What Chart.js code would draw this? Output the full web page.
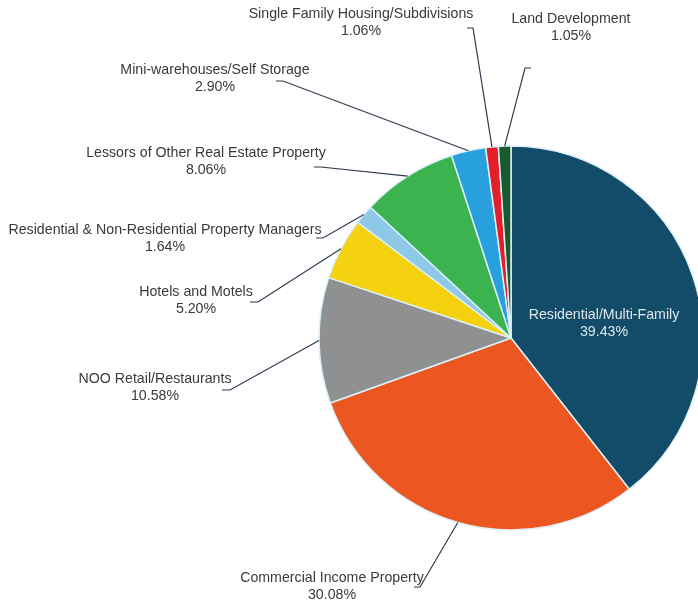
<!DOCTYPE html>
<html>
<head>
<meta charset="utf-8">
<style>
  html, body { margin: 0; padding: 0; background: #ffffff; overflow: hidden; }
  #wrap { width: 698px; height: 603px; }
</style>
<script src="https://cdn.jsdelivr.net/npm/chart.js@4/dist/chart.umd.min.js"></script>
</head>
<body>
<div id="wrap"><canvas id="pie" width="698" height="603"></canvas></div>
<script>
// Loan portfolio by property type, share of total (%)
const categories = [
  'Residential/Multi-Family',
  'Commercial Income Property',
  'NOO Retail/Restaurants',
  'Hotels and Motels',
  'Residential & Non-Residential Property Managers',
  'Lessors of Other Real Estate Property',
  'Mini-warehouses/Self Storage',
  'Single Family Housing/Subdivisions',
  'Land Development'
];
const shares = [39.43, 30.08, 10.58, 5.20, 1.64, 8.06, 2.90, 1.06, 1.05];
const sliceColors = [
  '#124c69', '#ec5621', '#8f9092', '#f5d20f', '#8dc9e6',
  '#3bb34f', '#27a0dd', '#e3202a', '#185a2e'
];

// Label placement: text centre (tx, ty of first line), leader elbow (ex, ey)
// and end of the short horizontal tick (hx). inside = drawn on the slice.
const labelLayout = [
  { tx: 604, ty: 315, inside: true },
  { tx: 332, ty: 578, ex: 420, ey: 587, hx: 414 },
  { tx: 155, ty: 379, ex: 230, ey: 390, hx: 222 },
  { tx: 196, ty: 292, ex: 258, ey: 302, hx: 250 },
  { tx: 165, ty: 230, ex: 323, ey: 238, hx: 316 },
  { tx: 206, ty: 153, ex: 321, ey: 167, hx: 314 },
  { tx: 215, ty: 70,  ex: 283, ey: 81,  hx: 276 },
  { tx: 361, ty: 14,  ex: 473, ey: 28,  hx: 467 },
  { tx: 571, ty: 19,  ex: 525, ey: 68,  hx: 531 }
];

const FONT = '14.2px "Liberation Sans", Arial, sans-serif';
const LINE_GAP = 17;

const sliceLabels = {
  id: 'sliceLabels',
  afterDatasetsDraw(chart) {
    const ctx = chart.ctx;
    const arcs = chart.getDatasetMeta(0).data;
    ctx.save();
    ctx.font = FONT;
    ctx.textAlign = 'center';
    ctx.textBaseline = 'middle';
    arcs.forEach((arc, i) => {
      const lay = labelLayout[i];
      const pct = shares[i].toFixed(2) + '%';
      if (lay.inside) {
        ctx.fillStyle = '#dde7ec';
        ctx.fillText(categories[i], lay.tx, lay.ty);
        ctx.fillText(pct, lay.tx, lay.ty + LINE_GAP);
        return;
      }
      // leader from the middle of the slice's outer rim
      const p = arc.getProps(['x', 'y', 'startAngle', 'endAngle', 'outerRadius'], true);
      const mid = (p.startAngle + p.endAngle) / 2;
      const sx = p.x + Math.cos(mid) * p.outerRadius;
      const sy = p.y + Math.sin(mid) * p.outerRadius;
      ctx.strokeStyle = '#2c3a4c';
      ctx.lineWidth = 1.2;
      ctx.beginPath();
      ctx.moveTo(sx, sy);
      ctx.lineTo(lay.ex, lay.ey);
      ctx.lineTo(lay.hx, lay.ey);
      ctx.stroke();
      ctx.fillStyle = '#3a3a3a';
      ctx.fillText(categories[i], lay.tx, lay.ty);
      ctx.fillText(pct, lay.tx, lay.ty + LINE_GAP);
    });
    ctx.restore();
  }
};

new Chart(document.getElementById('pie'), {
  type: 'pie',
  data: {
    labels: categories,
    datasets: [{
      data: shares,
      backgroundColor: sliceColors,
      borderColor: '#dcf0f7',
      borderWidth: 1.5,
      clip: false
    }]
  },
  options: {
    responsive: false,
    animation: false,
    radius: 192,
    layout: { padding: { left: 324, top: 73, right: 0, bottom: 0 } },
    plugins: {
      legend: { display: false },
      tooltip: { enabled: false }
    }
  },
  plugins: [sliceLabels]
});
</script>
</body>
</html>
